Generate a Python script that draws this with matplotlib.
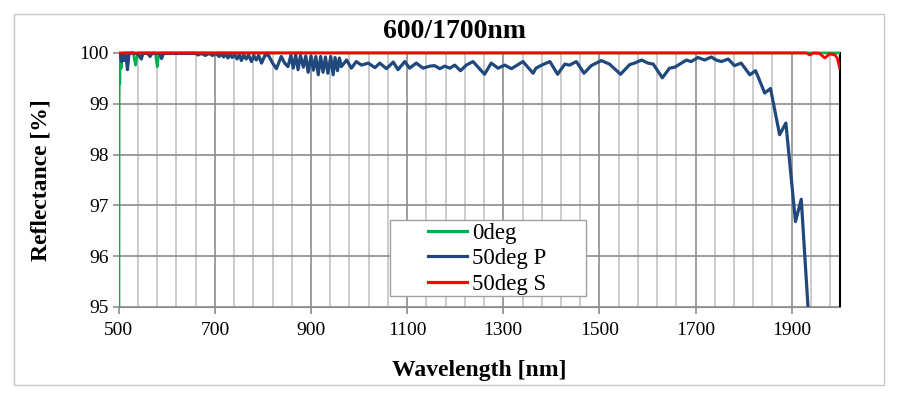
import matplotlib.pyplot as plt
from matplotlib.patches import Rectangle

plt.rcParams['font.family'] = ['Liberation Serif', 'DejaVu Serif']

# 0deg
wl_0 = [500, 500.5, 501, 502, 503, 505, 507, 510, 530, 533, 535, 537, 540,
        576, 579, 580, 582, 585, 1940, 2000]
r_0 = [93.0, 98.8, 99.9, 99.4, 99.95, 99.7, 99.98, 100, 100, 99.85, 99.76, 99.9, 100,
       100, 99.8, 99.73, 99.9, 100, 100, 100]

# 50deg P
wl_p = [500, 503, 506, 509, 512, 515, 518, 521, 525, 540, 547, 550, 560, 565, 569,
        585, 589, 593, 660, 665, 672, 680, 688, 695, 702, 709,
        714, 718, 723, 727, 732, 736, 741, 746, 751, 755, 760, 765, 770, 776, 781,
        786, 791, 797, 804, 811, 820, 828, 838, 845, 852, 858, 863, 868, 873, 878,
        884, 889, 894, 900, 905, 910, 915, 920, 925, 930, 935, 941, 946, 950, 955,
        959, 963, 974, 984, 994, 1005, 1019, 1033, 1043,
        1057, 1071, 1081, 1095, 1105, 1119, 1133, 1147, 1157, 1168, 1178, 1189,
        1199, 1211, 1223, 1237, 1261, 1275, 1289, 1303, 1317, 1341, 1362, 1368,
        1380, 1397, 1413, 1428, 1438, 1452, 1468, 1483, 1504, 1521, 1544, 1563,
        1573, 1588, 1601, 1612, 1631, 1646, 1657, 1681, 1691, 1705, 1719, 1733,
        1743, 1754, 1768, 1781, 1795, 1813, 1825, 1844, 1856, 1875, 1888, 1908,
        1920, 1934, 1942]
r_p = [99.98, 99.95, 99.83, 99.97, 99.85, 99.95, 99.67, 99.97, 100, 99.98, 99.88,
       99.99, 99.99, 99.93, 99.99, 99.99, 99.89, 99.99, 99.99, 99.96, 99.99, 99.95,
       99.99, 99.95, 99.99, 99.93,
       99.98, 99.92, 99.98, 99.90, 99.97, 99.91, 99.97, 99.88, 99.97, 99.85, 99.96,
       99.88, 99.96, 99.83, 99.95, 99.86, 99.95, 99.80, 99.95, 99.96, 99.80, 99.69,
       99.93, 99.80, 99.73, 99.95, 99.70, 99.96, 99.67, 99.95, 99.72, 99.94, 99.62,
       99.94, 99.66, 99.93, 99.57, 99.93, 99.62, 99.92, 99.60, 99.93, 99.57, 99.91,
       99.65, 99.90, 99.73, 99.86, 99.70, 99.83, 99.76, 99.80, 99.71, 99.80,
       99.69, 99.82, 99.67, 99.83, 99.70, 99.80, 99.70, 99.74, 99.75, 99.69, 99.74,
       99.70, 99.76, 99.65, 99.76, 99.83, 99.58, 99.80, 99.70, 99.76, 99.69, 99.83,
       99.60, 99.70, 99.76, 99.83, 99.58, 99.78, 99.76, 99.83, 99.60, 99.75, 99.85,
       99.78, 99.58, 99.77, 99.80, 99.86, 99.80, 99.78, 99.51, 99.70, 99.72, 99.86,
       99.83, 99.91, 99.86, 99.92, 99.86, 99.83, 99.88, 99.75, 99.80, 99.57, 99.65,
       99.21, 99.30, 98.39, 98.62, 96.68, 97.12, 95.0, 93.8]

# 50deg S
wl_s = [500, 1930, 1938, 1946, 1958, 1969, 1979, 1990, 1995, 2000]
r_s = [100, 100, 99.96, 100, 99.99, 99.90, 99.98, 99.96, 99.9, 99.70]

x_major = [500, 700, 900, 1100, 1300, 1500, 1700, 1900]
y_ticks = [95, 96, 97, 98, 99, 100]

fig = plt.figure(figsize=(9, 3.95), dpi=100)
ax = fig.add_axes([0.132, 0.223, 0.801, 0.643])

# outer chart border
fig.patches.append(Rectangle((14 / 900, 1 - 385 / 395), 870 / 900, 371 / 395,
                             transform=fig.transFigure, fill=False,
                             edgecolor='#c8c8c8', lw=1))

ax.set_xlim(500, 2000)
ax.set_ylim(95, 100)

for x in range(540, 2000, 40):
    if x not in x_major:
        ax.axvline(x, color='#c4c4c4', lw=1.2, zorder=1)
for x in x_major[1:]:
    ax.axvline(x, color='#8c8c8c', lw=1.2, zorder=1)
for y in y_ticks:
    ax.axhline(y, color='#8c8c8c', lw=1.2, zorder=1)

clip = Rectangle((0, 0), 1, 1.03, transform=ax.transAxes, visible=False)
ax.add_patch(clip)

lines = []
lines += ax.plot(wl_0, r_0, color='#00b050', lw=2, label='0deg', zorder=3)
lines += ax.plot(wl_p, r_p, color='#1f497d', lw=2.3, label='50deg P', zorder=4)
lines += ax.plot(wl_s, r_s, color='#ff0000', lw=2, label='50deg S', zorder=5)
for ln in lines:
    ln.set_clip_path(clip)
    ln.set_solid_joinstyle('round')

ax.set_xticks(x_major)
ax.set_yticks(y_ticks)
ax.tick_params(axis='both', labelsize=14, length=5, width=1.2, color='#8c8c8c',
               direction='out')
ax.tick_params(axis='x', pad=6)
ax.tick_params(axis='y', length=4, pad=3)

ax.spines['top'].set_visible(False)
ax.spines['left'].set_color('#8c8c8c')
ax.spines['bottom'].set_color('#8c8c8c')
ax.spines['right'].set_color('black')
ax.spines['right'].set_linewidth(1.5)

fig.text(455 / 900, 1 - 31 / 395, '600/1700nm', fontsize=20, fontweight='bold',
         ha='center', va='center')
ax.set_xlabel('Wavelength [nm]', fontsize=17, fontweight='bold')
ax.xaxis.set_label_coords(0.5, -0.21)
ax.set_ylabel('Reflectance [%]', fontsize=17, fontweight='bold')
ax.yaxis.set_label_coords(-0.093, 0.5)

# legend frame, then entries
ax.add_patch(Rectangle((0.376, 0.043), 0.272, 0.30, transform=ax.transAxes,
                       facecolor='white', edgecolor='#a0a0a0', lw=1, zorder=6))
leg = ax.legend(loc='center left', bbox_to_anchor=(0.429, 0.19), fontsize=16.5,
                frameon=False, handlelength=1.7, handletextpad=0.22,
                borderpad=0, labelspacing=0.2, borderaxespad=0)
leg.set_zorder(7)
for h in leg.get_lines():
    h.set_linewidth(2.3)

fig.savefig('out.png', dpi=100)
